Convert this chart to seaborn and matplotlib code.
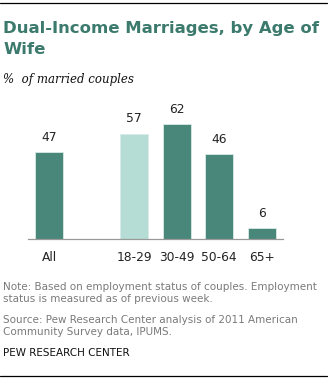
import matplotlib
matplotlib.use("Agg")
import matplotlib.pyplot as plt
import seaborn as sns
import pandas as pd
from matplotlib.lines import Line2D

categories = ["All", "18-29", "30-49", "50-64", "65+"]
values = [47, 57, 62, 46, 6]
order = ["All", " ", "18-29", "30-49", "50-64", "65+"]

DARK = "#4a877b"
LIGHT = "#b5ddd5"
TITLE_C = "#3b7a6c"
colors = {"All": DARK, "18-29": LIGHT, "30-49": DARK, "50-64": DARK, "65+": DARK}

sns.set_theme(style="white")
plt.rcParams["font.family"] = ["DejaVu Sans"]

W, H = 332, 381
fig = plt.figure(figsize=(W / 100, H / 100), dpi=100)

def fx(px):
    return px / W

def fy(py):
    return 1 - py / H

df = pd.DataFrame({"cat": categories, "val": values})

ax = fig.add_axes([fx(28), fy(239), fx(283) - fx(28), fy(109.5) - fy(239)])
sns.barplot(data=df, x="cat", y="val", order=order, hue="cat", palette=colors,
            width=0.66, ax=ax, legend=False, edgecolor="#d8ebe6", linewidth=0.6,
            saturation=1)
ax.set_ylim(0, 70)
ax.set_xlim(-0.5, 5.5)
for c in ax.containers:
    ax.bar_label(c, fmt="%d", padding=6, fontsize=8.8, color="#222222")
ax.set_xlabel("")
ax.set_ylabel("")
ax.set_yticks([])
ax.tick_params(axis="x", length=0, pad=8.5, labelsize=8.8, colors="#222222")
for s in ["top", "right", "left"]:
    ax.spines[s].set_visible(False)
ax.spines["bottom"].set_color("#999999")
ax.spines["bottom"].set_linewidth(0.9)

# top and bottom rules
fig.add_artist(Line2D([0, fx(327)], [fy(3), fy(3)], color="black", lw=0.9))
fig.add_artist(Line2D([0, fx(327)], [fy(376), fy(376)], color="black", lw=0.9))

fig.text(fx(3), fy(29), "Dual-Income Marriages, by Age of", fontsize=11.85,
         fontweight="bold", color=TITLE_C, va="center", ha="left")
fig.text(fx(3), fy(49), "Wife", fontsize=11.85, fontweight="bold",
         color=TITLE_C, va="center", ha="left")
fig.text(fx(3), fy(79), "%  of married couples", fontsize=8.5, style="italic",
         family="DejaVu Serif", color="#111111", va="center", ha="left")

note_c = "#7a7a7a"
fs = 7.5
fig.text(fx(3), fy(287), "Note: Based on employment status of couples. Employment",
         fontsize=fs, color=note_c, va="center", ha="left")
fig.text(fx(3), fy(299), "status is measured as of previous week.",
         fontsize=fs, color=note_c, va="center", ha="left")
fig.text(fx(3), fy(320), "Source: Pew Research Center analysis of 2011 American",
         fontsize=fs, color=note_c, va="center", ha="left")
fig.text(fx(3), fy(332), "Community Survey data, IPUMS.",
         fontsize=fs, color=note_c, va="center", ha="left")
fig.text(fx(3), fy(353), "PEW RESEARCH CENTER",
         fontsize=fs, color="#111111", va="center", ha="left")

fig.savefig("out.png", dpi=100)
